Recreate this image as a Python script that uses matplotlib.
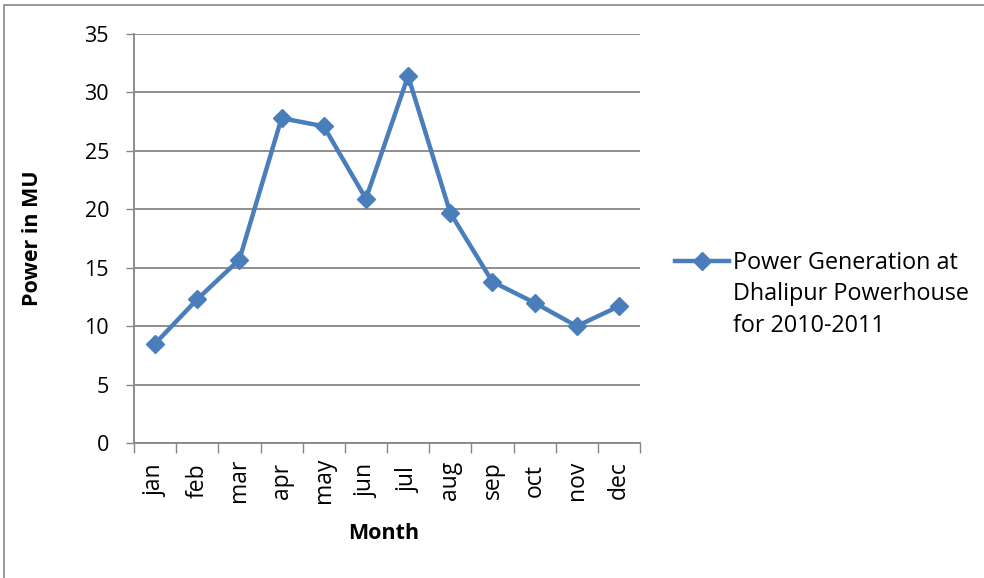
import matplotlib.pyplot as plt
from matplotlib.lines import Line2D
from matplotlib.patches import Rectangle

months = ['jan', 'feb', 'mar', 'apr', 'may', 'jun',
          'jul', 'aug', 'sep', 'oct', 'nov', 'dec']
power_mu = [8.5, 12.3, 15.7, 27.8, 27.1, 20.9,
            31.4, 19.7, 13.8, 12.0, 10.0, 11.7]
series_name = 'Power Generation at\nDhalipur Powerhouse\nfor 2010-2011'

plt.rcParams['font.family'] = ['Open Sans', 'DejaVu Sans']
blue = '#4a7ebb'
grey = '#868686'
line_style = dict(color=blue, linewidth=3.2, marker='D', markersize=9.5)

fig = plt.figure(figsize=(9.84, 5.78), dpi=100)
# chart border
fig.patches.append(Rectangle((4 / 984, -0.1), 1.2, 1 - 5 / 578 + 0.1,
                             transform=fig.transFigure, fill=False,
                             edgecolor=grey, linewidth=1.2))

ax = fig.add_axes([134 / 984, 1 - 443 / 578, 506 / 984, 409 / 578])
x = list(range(len(months)))
ax.plot(x, power_mu, **line_style)

ax.set_xlim(-0.5, len(months) - 0.5)
ax.set_ylim(0, 35)
ax.set_yticks(range(0, 36, 5))
ax.set_xticks([i - 0.5 for i in range(len(months) + 1)], minor=False)
ax.set_xticklabels([])
ax.set_xticks(x, minor=True)
ax.set_xticklabels(months, minor=True, rotation=90, fontsize=16.5, va='center')
ax.tick_params(axis='x', which='minor', length=0, pad=27)
ax.tick_params(axis='x', which='major', length=7, color=grey, width=1)
ax.tick_params(axis='y', length=6, color=grey, width=1, labelsize=15.5, pad=12)

ax.grid(axis='y', color=grey, linewidth=1.3)
ax.set_axisbelow(True)
for s in ['top', 'right']:
    ax.spines[s].set_visible(False)
for s in ['left', 'bottom']:
    ax.spines[s].set_color(grey)
    ax.spines[s].set_linewidth(1.3)

ax.set_ylabel('Power in MU', fontsize=15.5, fontweight='bold')
ax.yaxis.set_label_coords(-0.18, 0.5)
ax.set_xlabel('Month', fontsize=15.5, fontweight='bold')
ax.xaxis.set_label_coords(0.494, -0.195)

# legend: handle lines up with the first line of the series name
fig.add_artist(Line2D([675 / 984, 729 / 984], [1 - 261 / 578] * 2,
                      markevery=[], transform=fig.transFigure, **line_style))
fig.add_artist(Line2D([702 / 984], [1 - 261 / 578],
                      transform=fig.transFigure, **line_style))
fig.text(733 / 984, 1 - 332 / 578, series_name, fontsize=16.8,
         va='baseline', ha='left', linespacing=1.42,
         transform=fig.transFigure)

fig.savefig('out.png', dpi=100)
